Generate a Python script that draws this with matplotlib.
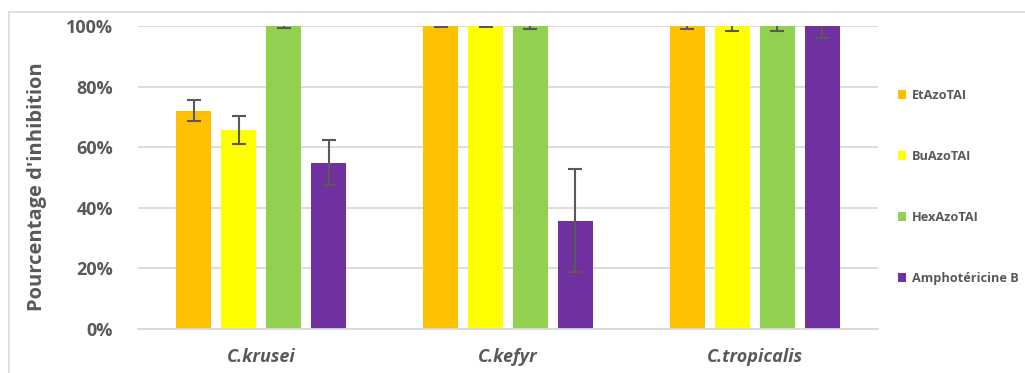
import matplotlib
matplotlib.use("Agg")
import matplotlib.pyplot as plt
from matplotlib.lines import Line2D
from matplotlib.patches import Patch
import numpy as np

# Data
species = ["C.krusei", "C.kefyr", "C.tropicalis"]
compounds = ["EtAzoTAI", "BuAzoTAI", "HexAzoTAI", "Amphotéricine B"]
inhibition = {
    "EtAzoTAI":        [72.0, 100.0, 100.0],
    "BuAzoTAI":        [65.7, 100.0, 100.0],
    "HexAzoTAI":       [100.0, 100.0, 100.0],
    "Amphotéricine B": [54.9, 35.8, 100.0],
}
errors = {
    "EtAzoTAI":        [3.5, 0.3, 1.1],
    "BuAzoTAI":        [4.6, 0.3, 1.7],
    "HexAzoTAI":       [0.5, 1.0, 1.7],
    "Amphotéricine B": [7.4, 16.9, 3.9],
}
colors = ["#FFC000", "#FFFF00", "#92D050", "#7030A0"]
yticks = [0, 20, 40, 60, 80, 100]
ytick_labels = ["0%", "20%", "40%", "60%", "80%", "100%"]

plt.rcParams["font.family"] = ["Open Sans", "DejaVu Sans"]
text_color = "#595959"
grid_color = "#D9D9D9"

W, H = 1025, 373
fig = plt.figure(figsize=(W / 100, H / 100), dpi=100)
ax = fig.add_axes([138 / W, 1 - 329 / H, (878 - 138) / W, (329 - 26) / H])

x = np.arange(len(species))
bar_w = 35 / 246.7
step = 45 / 246.7
offsets = (np.arange(len(compounds)) - 1.5) * step

for i, name in enumerate(compounds):
    ax.bar(x + offsets[i], inhibition[name], width=bar_w, color=colors[i],
           edgecolor="none", zorder=3)
    ax.errorbar(x + offsets[i], inhibition[name], yerr=errors[name], fmt="none",
                ecolor=text_color, elinewidth=1.5, capsize=5, capthick=1.5,
                zorder=4)

ax.set_xlim(-0.5, len(species) - 0.5)
ax.set_ylim(0, 100)
ax.set_yticks(yticks)
ax.set_yticklabels(ytick_labels)
ax.yaxis.grid(True, color=grid_color, linewidth=1.3, zorder=0)
ax.set_axisbelow(True)
for s in ["left", "right", "top"]:
    ax.spines[s].set_visible(False)
ax.spines["bottom"].set_color(grid_color)
ax.spines["bottom"].set_linewidth(1.3)
ax.spines["bottom"].set_zorder(5)

ax.set_xticks(x)
ax.set_xticklabels(species, fontsize=13, fontweight="bold", style="italic",
                   color=text_color)
ax.tick_params(axis="x", length=0, pad=14)
ax.tick_params(axis="y", length=0, pad=18, labelsize=13, labelcolor=text_color)
for lbl in ax.get_yticklabels():
    lbl.set_fontweight("bold")

fig.text(37 / W, 1 - 187 / H, "Pourcentage d'inhibition", rotation=90,
         ha="center", va="center", fontsize=14.5, fontweight="bold",
         color=text_color)

# Legend, laid out vertically on the right
handles = [Patch(facecolor=c, edgecolor="none") for c in colors]
leg = fig.legend(handles, compounds, loc="center left",
                 bbox_to_anchor=(886 / W, 1 - 187 / H), frameon=False,
                 handlelength=0.7, handleheight=0.7, handletextpad=0.4,
                 labelspacing=3.75, prop={"size": 9.2, "weight": "bold"})
for t in leg.get_texts():
    t.set_color(text_color)

# Outer chart frame
fig.add_artist(Line2D([8.5 / W, 8.5 / W], [0, 1 - 12 / H],
                      transform=fig.transFigure, color=grid_color, lw=1.2))
fig.add_artist(Line2D([8.5 / W, 1], [1 - 12 / H, 1 - 12 / H],
                      transform=fig.transFigure, color=grid_color, lw=1.2))

fig.savefig("out.png", dpi=100)
